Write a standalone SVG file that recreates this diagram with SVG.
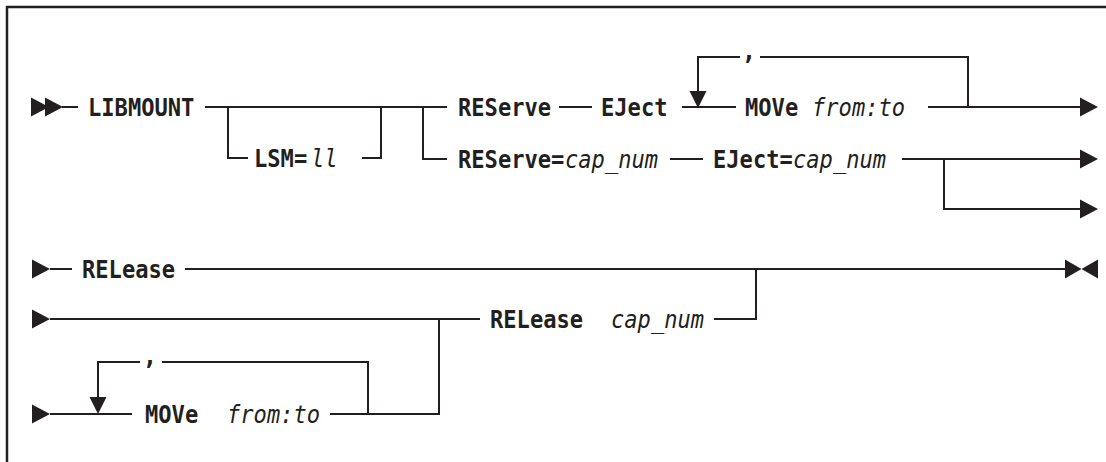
<svg xmlns="http://www.w3.org/2000/svg" xmlns:xlink="http://www.w3.org/1999/xlink" width="1106" height="462" viewBox="0 0 1106 462">
<style>
.t{font-family:"DejaVu Sans Mono","Liberation Mono",monospace;font-size:24px;fill:#231f20}
.b{font-weight:bold}
.i{font-style:italic;font-weight:normal}
.ln{fill:none;stroke:#231f20;stroke-width:2}
.ah{fill:#231f20}
.frame{fill:none;stroke:#231f20;stroke-width:2.5}
</style>
<defs>
<path id="ar" d="M-18,-9.5 L0,0 L-18,9.5 Z"/>
<path id="ad" d="M-8.5,-17 L8.5,-17 L0,0 Z"/>
</defs>
<rect width="1106" height="462" fill="#fff"/>
<path class="frame" d="M7,462 V7 H1106"/>
<g id="connectors" class="ln">
<path d="M62,107 H78"/>
<path d="M205,107 H447"/>
<path d="M228,107 V158 H248 M362,158 H381 V107"/>
<path d="M423,107 V159 H447"/>
<path d="M559,107 H592"/>
<path d="M682,107 H736"/>
<path d="M968,107 V57 H760 M740,57 H698 V92"/>
<path d="M928,107 H1082"/>
<path d="M670,159 H703"/>
<path d="M902,159 H1082"/>
<path d="M944,159 V209 H1082"/>
<path d="M50,269 H72"/>
<path d="M185,269 H1066"/>
<path d="M50,319 H480"/>
<path d="M714,319 H756 V269"/>
<path d="M439,319 V414 H330"/>
<path d="M50,414 H132"/>
<path d="M368,414 V362 H162 M140,362 H98 V398"/>
</g>
<g id="arrowheads" class="ah">
<use xlink:href="#ar" x="49" y="107"/>
<use xlink:href="#ar" x="63" y="107"/>
<use xlink:href="#ad" x="698" y="108"/>
<use xlink:href="#ar" x="1098" y="107"/>
<use xlink:href="#ar" x="1098" y="159"/>
<use xlink:href="#ar" x="1098" y="209"/>
<use xlink:href="#ar" x="50" y="269"/>
<polygon points="1065,259.5 1081.5,269 1065,278.5"/>
<polygon points="1098,259.5 1081.5,269 1098,278.5"/>
<use xlink:href="#ar" x="50" y="319"/>
<use xlink:href="#ar" x="50" y="414"/>
<use xlink:href="#ad" x="98" y="414"/>
</g>
<g id="n-libmount"><text class="t b" x="88" y="116" textLength="106.4" lengthAdjust="spacingAndGlyphs">LIBMOUNT</text></g>
<g id="n-lsm"><text class="t b" x="254" y="167" textLength="53.2" lengthAdjust="spacingAndGlyphs">LSM=</text><text class="t i" x="311" y="167" textLength="26.6" lengthAdjust="spacingAndGlyphs">ll</text></g>
<g id="n-reserve"><text class="t b" x="458" y="116" textLength="93.1" lengthAdjust="spacingAndGlyphs">REServe</text></g>
<g id="n-eject"><text class="t b" x="601" y="116" textLength="66.5" lengthAdjust="spacingAndGlyphs">EJect</text></g>
<g id="n-comma1"><text class="t b" x="749" y="60" text-anchor="middle">,</text></g>
<g id="n-move1"><text class="t b" x="745" y="116" textLength="53.2" lengthAdjust="spacingAndGlyphs">MOVe</text><text class="t i" x="812" y="116" textLength="93.1" lengthAdjust="spacingAndGlyphs">from:to</text></g>
<g id="n-reserve-cap"><text class="t b" x="458" y="168" textLength="106.4" lengthAdjust="spacingAndGlyphs">REServe=</text><text class="t i" x="565" y="168" textLength="93.1" lengthAdjust="spacingAndGlyphs">cap_num</text></g>
<g id="n-eject-cap"><text class="t b" x="713" y="168" textLength="79.8" lengthAdjust="spacingAndGlyphs">EJect=</text><text class="t i" x="793" y="168" textLength="93.1" lengthAdjust="spacingAndGlyphs">cap_num</text></g>
<g id="n-release1"><text class="t b" x="82" y="278" textLength="93.1" lengthAdjust="spacingAndGlyphs">RELease</text></g>
<g id="n-release2"><text class="t b" x="490" y="328" textLength="93.1" lengthAdjust="spacingAndGlyphs">RELease</text><text class="t i" x="611" y="328" textLength="93.1" lengthAdjust="spacingAndGlyphs">cap_num</text></g>
<g id="n-comma2"><text class="t b" x="150" y="365" text-anchor="middle">,</text></g>
<g id="n-move2"><text class="t b" x="145" y="423" textLength="53.2" lengthAdjust="spacingAndGlyphs">MOVe</text><text class="t i" x="227" y="423" textLength="93.1" lengthAdjust="spacingAndGlyphs">from:to</text></g>
</svg>
